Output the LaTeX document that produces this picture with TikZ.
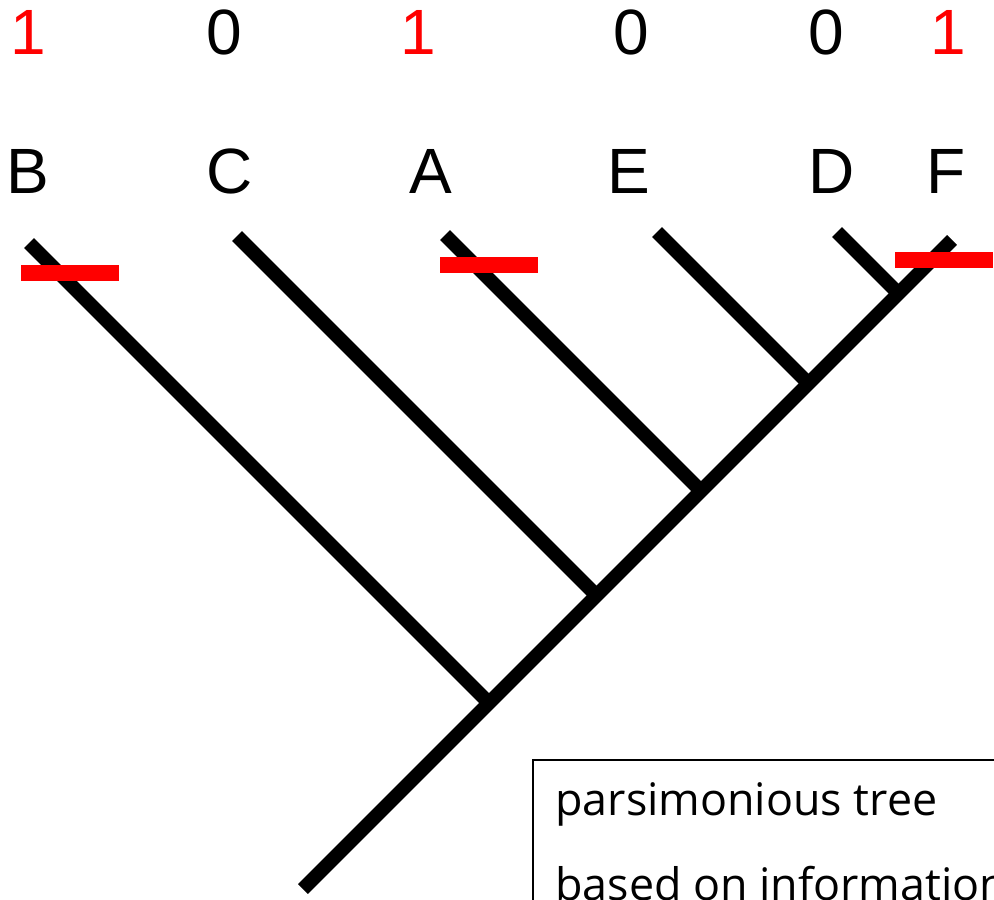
\documentclass[tikz,border=0pt]{standalone}
\usepackage{fontspec}
\setmainfont{Liberation Sans}
\newfontfamily\legendfont{Open Sans}
\begin{document}
\begin{tikzpicture}[x=0.5pt,y=-0.5pt,
  branch/.style={line width=7pt, line cap=butt},
  charbar/.style={fill=red, draw=none, minimum width=49pt, minimum height=8pt, inner sep=0pt},
  taxon/.style={font=\fontsize{32}{38}\selectfont, inner sep=0pt, anchor=base},
  state0/.style={taxon},
  state1/.style={taxon, text=red},
  legend/.style={font=\legendfont\fontsize{22.4}{27}\selectfont, inner sep=0pt, anchor=base west}]
\useasboundingbox (0,0) rectangle (994,899);
\clip (0,0) rectangle (994,899);

% character states
\node[state1] (sB) at (28,55) {1};
\node[state0] (sC) at (224,55) {0};
\node[state1] (sA) at (418,55) {1};
\node[state0] (sE) at (631,55) {0};
\node[state0] (sD) at (826,55) {0};
\node[state1] (sF) at (948,55) {1};

% taxon names
\node[taxon] (nB) at (28,193) {B};
\node[taxon] (nC) at (230,193) {C};
\node[taxon] (nA) at (431,193) {A};
\node[taxon] (nE) at (629,193) {E};
\node[taxon] (nD) at (832,193) {D};
\node[taxon] (nF) at (946,193) {F};

% tips, root and internal nodes
\coordinate (tB) at (29,243);
\coordinate (tC) at (237,236);
\coordinate (tA) at (445,235);
\coordinate (tE) at (657,232);
\coordinate (tD) at (837,232);
\coordinate (tF) at (952,240);
\coordinate (root) at (303,889);
\coordinate (jB) at (489,703);
\coordinate (jC) at (596.5,595.5);
\coordinate (jA) at (701,491);
\coordinate (jE) at (808.5,383.5);
\coordinate (jD) at (898.5,293.5);

% tree
\draw[branch] (root) -- (tF);
\draw[branch] (tB) -- (jB);
\draw[branch] (tC) -- (jC);
\draw[branch] (tA) -- (jA);
\draw[branch] (tE) -- (jE);
\draw[branch] (tD) -- (jD);

% state changes
\node[charbar] (cB) at (70,273) {};
\node[charbar] (cA) at (488.5,265) {};
\node[charbar] (cF) at (944,260) {};

% legend box
\draw[line width=1pt] (1010,760) -| (533,950);
\node[legend] (l1) at (555,815) {parsimonious tree};
\node[legend] (l2) at (555,900) {based on information};
\end{tikzpicture}
\end{document}
